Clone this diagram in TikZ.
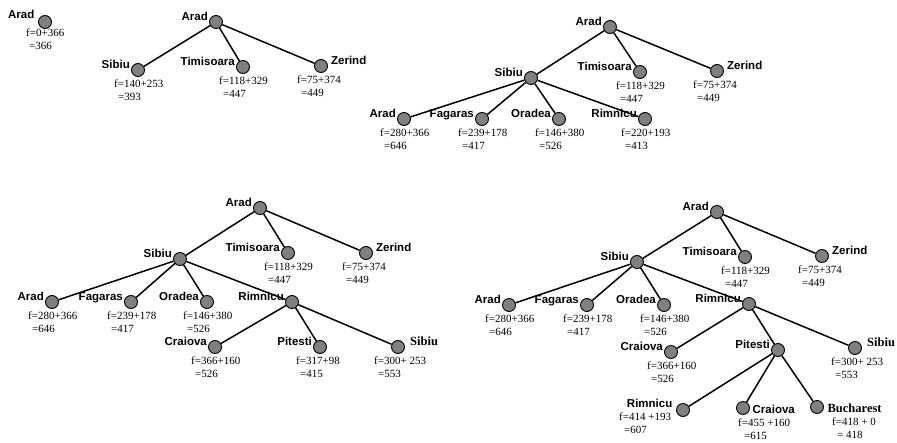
\documentclass[tikz,border=0pt]{standalone}
\usepackage{fontspec}
\setmainfont{Liberation Serif}
\newfontfamily\lblfont{Liberation Sans}
\tikzset{
  city/.style={circle, draw=black, line width=0.9pt, fill=black!50, minimum size=13pt, inner sep=0pt},
  lbl/.style={font=\lblfont\bfseries\fontsize{11.5}{12}\selectfont, inner sep=0pt},
  slbl/.style={font=\bfseries\fontsize{12.5}{13}\selectfont, inner sep=0pt},
  fval/.style={font=\fontsize{11}{12.5}\selectfont, inner sep=0pt, align=left, anchor=north west},
  edge/.style={line width=1.5pt},
}
\newcommand\Ll[2]{\node[lbl,anchor=base east] (#1-l) at ([shift={(-1pt,1.5pt)}]#1.west) {#2};}
\newcommand\Lr[2]{\node[lbl,anchor=base west] (#1-l) at ([shift={(3pt,1.5pt)}]#1.east) {#2};}
\newcommand\Fv[3]{\node[fval] (#1-f) at ([shift={(-24pt,-10pt)}]#1.center) {#2\\\hspace*{4pt}#3};}
\begin{document}
\begin{tikzpicture}[x=1pt,y=-1pt]
\useasboundingbox (0,0) rectangle (897,442);
% ---------- panel 1
\node[city] (a0) at (45,22) {};
\node[lbl,anchor=base east] (a0-l) at ([shift={(-3.5pt,4pt)}]a0.west) {Arad};
\node[fval] (a0-f) at ([shift={(-19pt,-7pt)}]a0.center) {f=0+366\\\hspace*{3pt}=366};
% ---------- panel 2
\node[city] (b0) at (216,22) {};
\node[city] (b1) at (138,70) {};
\node[city] (b2) at (243,67) {};
\node[city] (b3) at (321,66) {};
\draw[edge] (b0) -- (b1); \draw[edge] (b0) -- (b2); \draw[edge] (b0) -- (b3);
\Ll{b0}{Arad} \Ll{b1}{Sibiu} \Ll{b2}{Timisoara} \Lr{b3}{Zerind}
\Fv{b1}{f=140+253}{=393} \Fv{b2}{f=118+329}{=447} \Fv{b3}{f=75+374}{=449}
% ---------- panel 3
\node[city] (c0) at (610,27) {};
\node[city] (c1) at (531,78) {};
\node[city] (c2) at (640,72) {};
\node[city] (c3) at (717,71) {};
\node[city] (c11) at (404,119) {};
\node[city] (c12) at (482,119) {};
\node[city] (c13) at (559,119) {};
\node[city] (c14) at (645,119) {};
\draw[edge] (c0) -- (c1); \draw[edge] (c0) -- (c2); \draw[edge] (c0) -- (c3);
\draw[edge] (c1) -- (c11); \draw[edge] (c1) -- (c12); \draw[edge] (c1) -- (c13); \draw[edge] (c1) -- (c14);
\Ll{c0}{Arad} \Ll{c1}{Sibiu} \Ll{c2}{Timisoara} \Lr{c3}{Zerind}
\Ll{c11}{Arad} \Ll{c12}{Fagaras} \Ll{c13}{Oradea} \Ll{c14}{Rimnicu}
\Fv{c2}{f=118+329}{=447} \Fv{c3}{f=75+374}{=449}
\Fv{c11}{f=280+366}{=646} \Fv{c12}{f=239+178}{=417} \Fv{c13}{f=146+380}{=526} \Fv{c14}{f=220+193}{=413}
% ---------- panel 4
\node[city] (d0) at (260,208) {};
\node[city] (d1) at (180,259) {};
\node[city] (d2) at (288,253) {};
\node[city] (d3) at (366,253) {};
\node[city] (d11) at (52,302) {};
\node[city] (d12) at (131,302) {};
\node[city] (d13) at (207,302) {};
\node[city] (d14) at (292,302) {};
\node[city] (d141) at (215,347) {};
\node[city] (d142) at (320,347) {};
\node[city] (d143) at (398,347) {};
\draw[edge] (d0) -- (d1); \draw[edge] (d0) -- (d2); \draw[edge] (d0) -- (d3);
\draw[edge] (d1) -- (d11); \draw[edge] (d1) -- (d12); \draw[edge] (d1) -- (d13); \draw[edge] (d1) -- (d14);
\draw[edge] (d14) -- (d141); \draw[edge] (d14) -- (d142); \draw[edge] (d14) -- (d143);
\Ll{d0}{Arad} \Ll{d1}{Sibiu} \Ll{d2}{Timisoara} \Lr{d3}{Zerind}
\Ll{d11}{Arad} \Ll{d12}{Fagaras} \Ll{d13}{Oradea} \Ll{d14}{Rimnicu}
\Ll{d141}{Craiova} \Ll{d142}{Pitesti}
\node[slbl,anchor=base west] (d143-l) at ([shift={(5pt,2pt)}]d143.east) {Sibiu};
\Fv{d2}{f=118+329}{=447} \Fv{d3}{f=75+374}{=449}
\Fv{d11}{f=280+366}{=646} \Fv{d12}{f=239+178}{=417} \Fv{d13}{f=146+380}{=526}
\Fv{d141}{f=366+160}{=526} \Fv{d142}{f=317+98}{=415} \Fv{d143}{f=300+ 253}{=553}
% ---------- panel 5
\node[city] (e0) at (717,212) {};
\node[city] (e1) at (637,262) {};
\node[city] (e2) at (745,257) {};
\node[city] (e3) at (822,256) {};
\node[city] (e11) at (509,305) {};
\node[city] (e12) at (587,305) {};
\node[city] (e13) at (664,305) {};
\node[city] (e14) at (749,304) {};
\node[city] (e141) at (671,352) {};
\node[city] (e142) at (778,350) {};
\node[city] (e143) at (855,348) {};
\node[city] (e1421) at (683,410) {};
\node[city] (e1422) at (743,408) {};
\node[city] (e1423) at (817,407) {};
\draw[edge] (e0) -- (e1); \draw[edge] (e0) -- (e2); \draw[edge] (e0) -- (e3);
\draw[edge] (e1) -- (e11); \draw[edge] (e1) -- (e12); \draw[edge] (e1) -- (e13); \draw[edge] (e1) -- (e14);
\draw[edge] (e14) -- (e141); \draw[edge] (e14) -- (e142); \draw[edge] (e14) -- (e143);
\draw[edge] (e142) -- (e1421); \draw[edge] (e142) -- (e1422); \draw[edge] (e142) -- (e1423);
\Ll{e0}{Arad} \Ll{e1}{Sibiu} \Ll{e2}{Timisoara} \Lr{e3}{Zerind}
\Ll{e11}{Arad} \Ll{e12}{Fagaras} \Ll{e13}{Oradea} \Ll{e14}{Rimnicu}
\Ll{e141}{Craiova} \Ll{e142}{Pitesti}
\node[slbl,anchor=base west] (e143-l) at ([shift={(5pt,2pt)}]e143.east) {Sibiu};
\Fv{e2}{f=118+329}{=447} \Fv{e3}{f=75+374}{=449}
\Fv{e11}{f=280+366}{=646} \Fv{e12}{f=239+178}{=417} \Fv{e13}{f=146+380}{=526}
\Fv{e141}{f=366+160}{=526} \Fv{e143}{f=300+ 253}{=553}
\node[lbl,anchor=base east] (e1421-l) at ([shift={(-3.5pt,3pt)}]e1421.west) {Rimnicu};
\node[lbl,anchor=base west] (e1422-l) at ([shift={(2.5pt,-5pt)}]e1422.east) {Craiova};
\node[slbl,anchor=base west] (e1423-l) at ([shift={(3.5pt,-5pt)}]e1423.east) {Bucharest};
\node[fval] (e1421-f) at ([shift={(-64pt,-3pt)}]e1421.center) {f=414 +193\\\hspace*{5pt}=607};
\node[fval] (e1422-f) at ([shift={(-5pt,-11pt)}]e1422.center) {f=455 +160\\\hspace*{6pt}=615};
\node[fval] (e1423-f) at ([shift={(15pt,-11pt)}]e1423.center) {f=418 + 0\\\hspace*{5pt}= 418};
\end{tikzpicture}
\end{document}
